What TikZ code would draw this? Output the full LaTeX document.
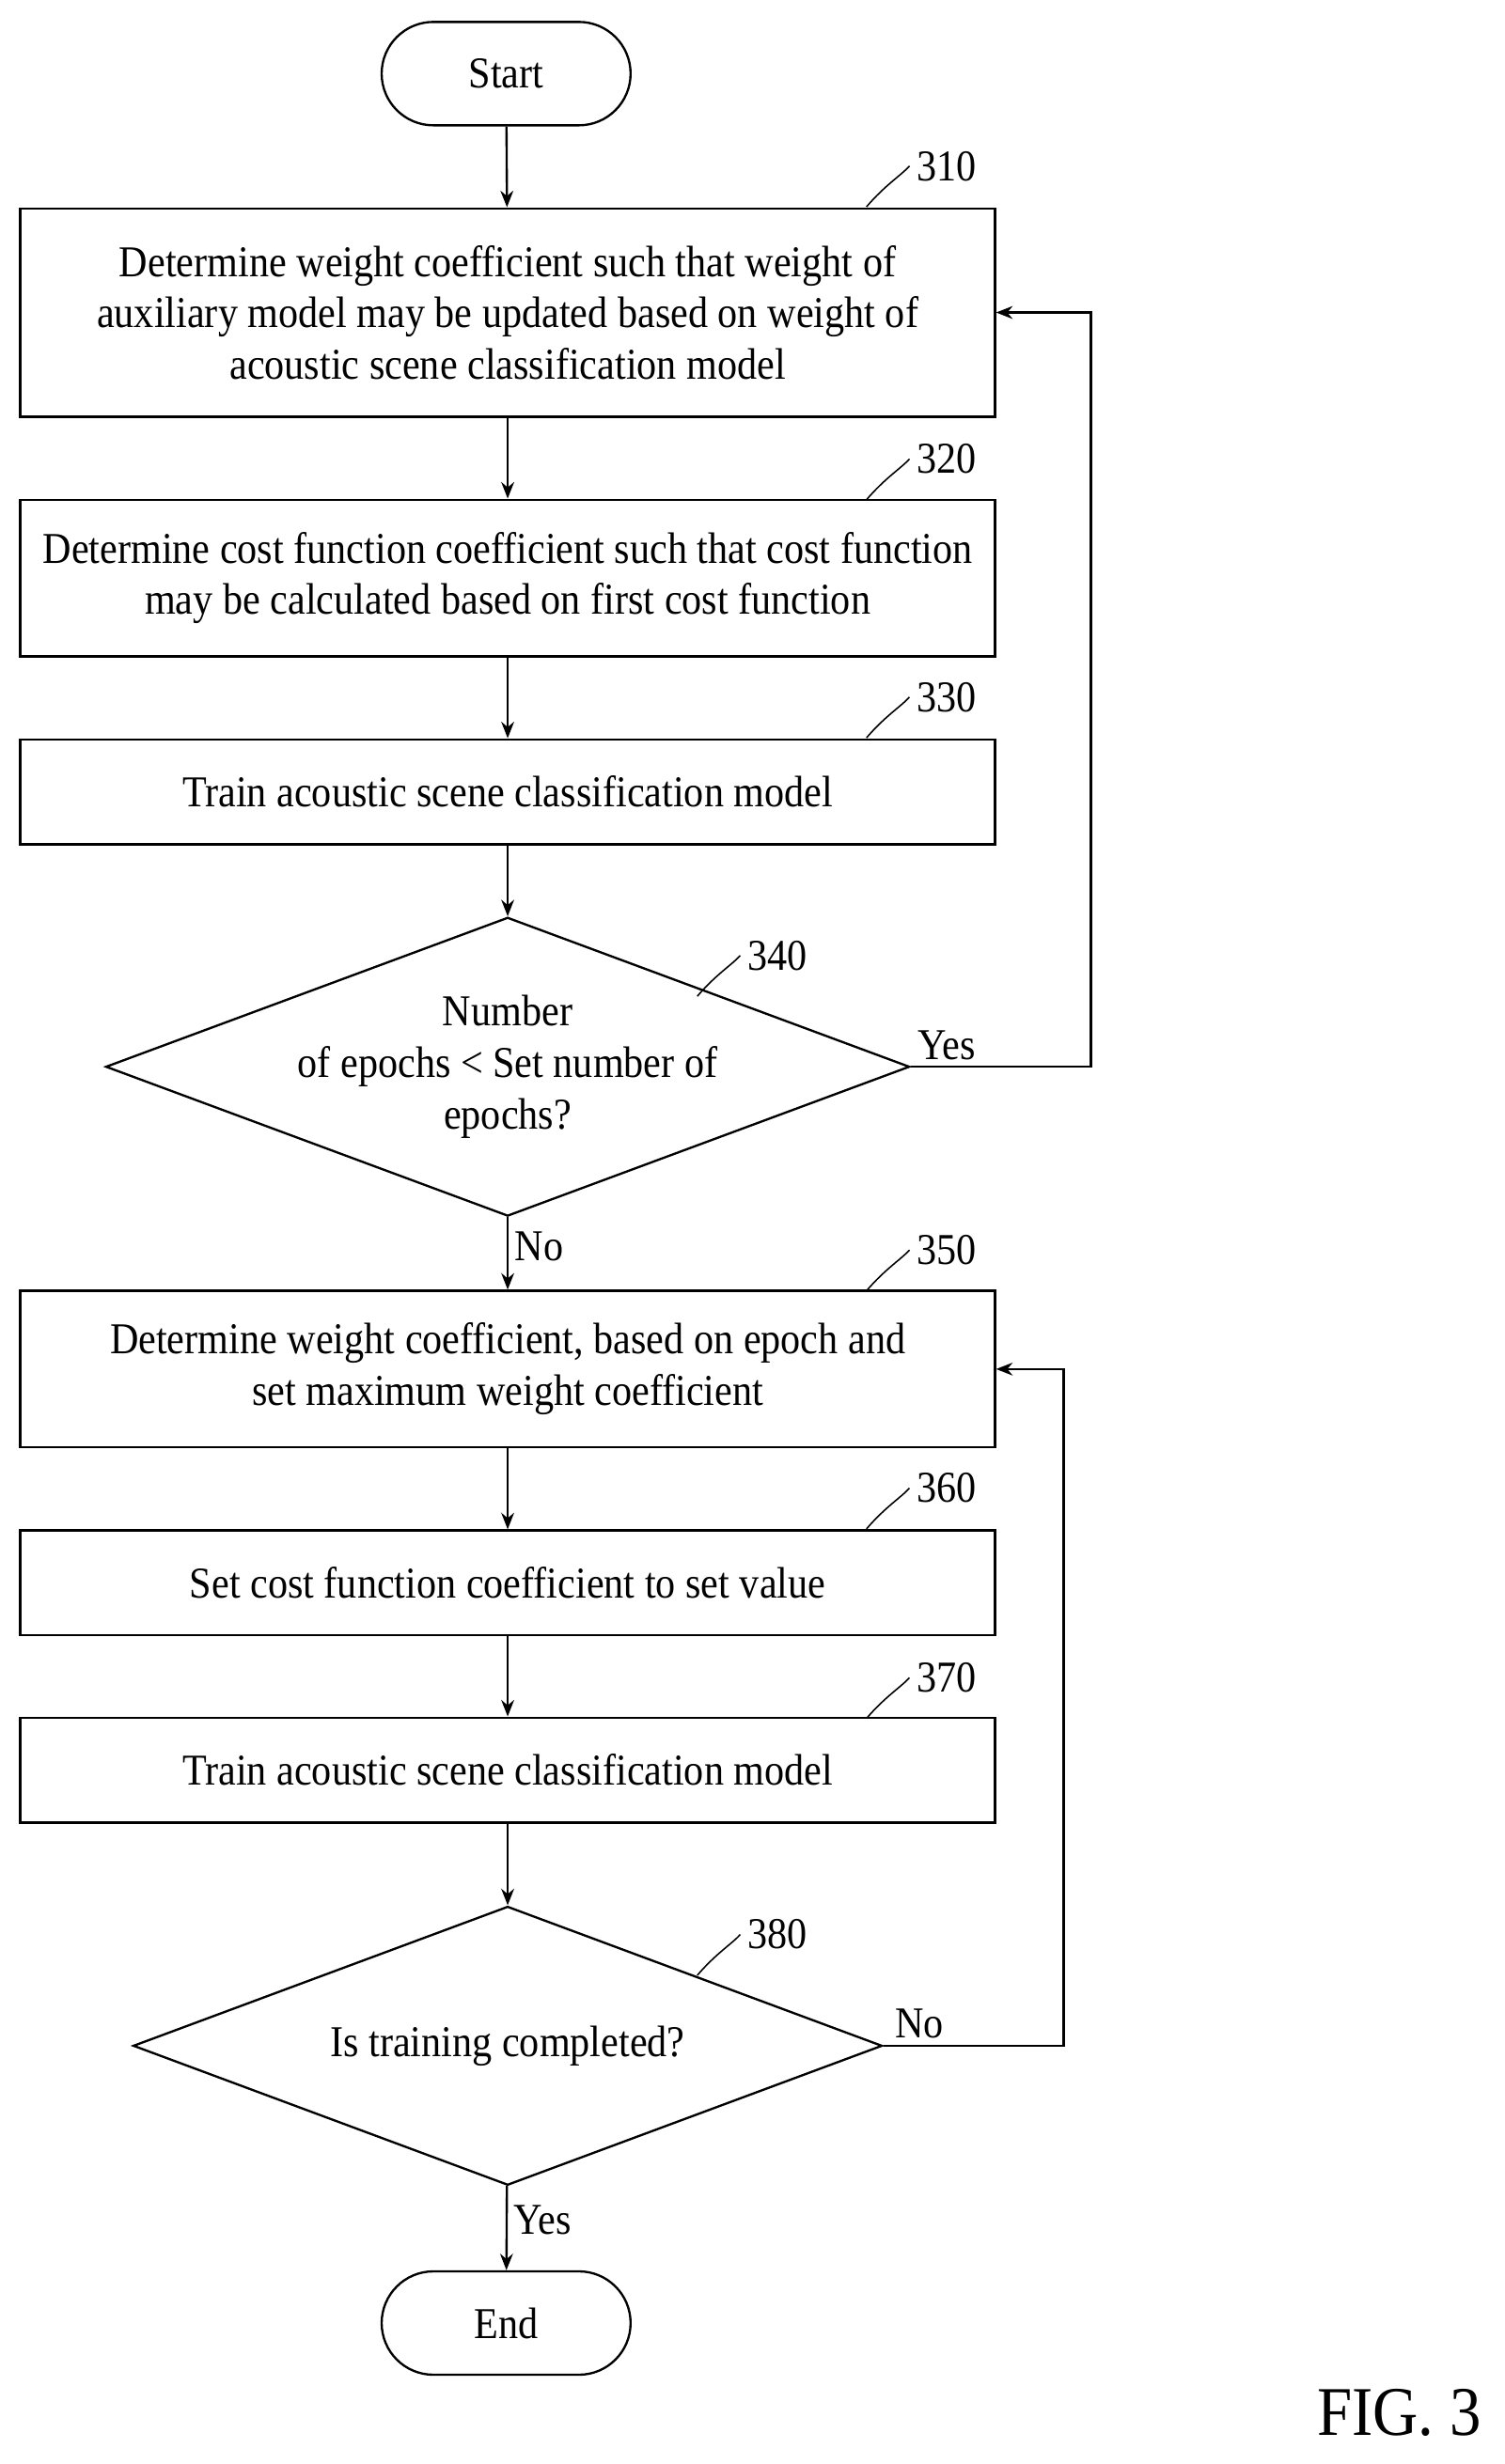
\documentclass[tikz,border=0pt]{standalone}
\usepackage{fontspec}
\setmainfont{Liberation Serif}[FakeStretch=0.9]
\usetikzlibrary{shapes.geometric,shapes.misc,arrows.meta}
\begin{document}
\begin{tikzpicture}[x=0.03cm, y=-0.03cm, >={Stealth[length=9pt,width=7pt]}, line width=1.2pt,
  box/.style={draw, minimum width=18.66cm, align=center, font=\fontsize{24}{28}\selectfont, inner sep=0pt},
  term/.style={draw, rounded rectangle, minimum width=5.0cm, minimum height=1.98cm, font=\fontsize{24}{28}\selectfont},
  dec/.style={draw, diamond, shape aspect=2.69, minimum width=14.34cm, minimum height=5.34cm, align=center, inner sep=0pt, font=\fontsize{24}{28}\selectfont},
  tag/.style={font=\fontsize{24}{26}\selectfont},
  lead/.style={line width=0.8pt}]
\useasboundingbox (0,0) rectangle (960,1573);

% --- main column ---
\node[term] (start) at (323,47) {Start};
\node[box, minimum height=3.99cm] (s310) at (324,199.5) {Determine weight coefficient such that weight of\\auxiliary model may be updated based on weight of\\acoustic scene classification model};
\node[box, minimum height=3.0cm] (s320) at (324,369) {Determine cost function coefficient such that cost function\\may be calculated based on first cost function};
\node[box, minimum height=2.01cm] (s330) at (324,505.5) {Train acoustic scene classification model};
\node[dec] (s340) at (324,681) {Number\\of epochs < Set number of\\epochs?};
\node[box, minimum height=3.0cm] (s350) at (324,874) {Determine weight coefficient, based on epoch and\\set maximum weight coefficient};
\node[box, minimum height=2.01cm] (s360) at (324,1010.5) {Set cost function coefficient to set value};
\node[box, minimum height=2.01cm] (s370) at (324,1130) {Train acoustic scene classification model};
\node[dec] (s380) at (324,1306) {Is training completed?};
\node[term] (end) at (323,1483) {End};

% --- arrows ---
\draw[->] (start) -- (s310);
\draw[->] (s310) -- (s320);
\draw[->] (s320) -- (s330);
\draw[->] (s330) -- (s340);
\draw[->] (s340) -- node[tag, right, pos=0.4] {No} (s350);
\draw[->] (s350) -- (s360);
\draw[->] (s360) -- (s370);
\draw[->] (s370) -- (s380);
\draw[->] (s380) -- node[tag, right, pos=0.4] {Yes} (end);
\draw[->] (s340.east) -- node[tag, above, pos=0.2] {Yes} ++(115,0) |- (s310.east);
\draw[->] (s380.east) -- node[tag, above, pos=0.2] {No} ++(115,0) |- (s350.east);

% --- reference numerals ---
\foreach \nm/\y in {310/106, 320/293, 330/445, 350/798, 360/950, 370/1071}{
  \node[tag] (t\nm) at (604,\y) {\nm};
  \coordinate (c\nm) at (553,\y+26);
  \draw[lead] (c\nm) .. controls (565,\y+12) and (575,\y+6) .. (t\nm.west);
}
\foreach \nm/\y in {340/610, 380/1235}{
  \node[tag] (t\nm) at (496,\y) {\nm};
  \coordinate (c\nm) at (445,\y+26);
  \draw[lead] (c\nm) .. controls (457,\y+12) and (467,\y+6) .. (t\nm.west);
}

\node[font=\fontsize{38}{40}\selectfont] (fig) at (893,1540) {FIG. 3};
\end{tikzpicture}
\end{document}
